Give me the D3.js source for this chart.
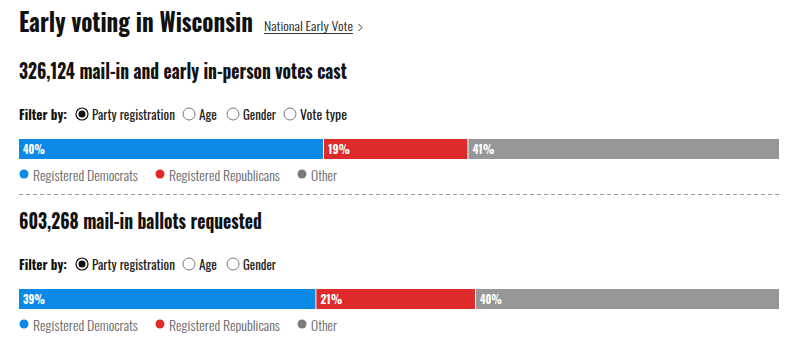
<!DOCTYPE html>
<html><head><meta charset="utf-8">
<script src="https://cdn.jsdelivr.net/npm/d3@7"></script>
<style>
html,body{margin:0;padding:0;background:#fff;}
svg{display:block;font-family:"Oswald","Roboto Condensed",sans-serif;}
</style></head>
<body>
<script>
const title = "Early voting in Wisconsin";
const linkText = "National Early Vote";
const categories = ["Registered Democrats", "Registered Republicans", "Other"];
const colors = ["#0b89e6", "#de2a2b", "#979797"];
const legendDotColors = ["#0b89e6", "#de2a2b", "#7b7b7b"];
const sectionCounts = ["326,124", "603,268"];
const sectionLabels = ["mail-in and early in-person votes cast", "mail-in ballots requested"];
const filterOptions = [
  ["Party registration", "Age", "Gender", "Vote type"],
  ["Party registration", "Age", "Gender"]
];
const castValues = [40, 19, 41];
const requestedValues = [39, 21, 40];
const seriesValues = [castValues, requestedValues];

const W = 791, H = 348;
const svg = d3.select("body").append("svg").attr("width", W).attr("height", H);
const x = d3.scaleLinear().domain([0, 100]).range([19, 779]);

// place a text at (tx,ty) and scale it horizontally to the target width
function fitText(parent, tx, ty, targetW, attrs, build) {
  const g = parent.append("g");
  const t = g.append("text").attr("x", 0).attr("y", 0);
  Object.entries(attrs).forEach(([k, v]) => t.attr(k, v));
  build(t);
  const w = t.node().getComputedTextLength();
  const sx = targetW ? targetW / w : 1;
  g.attr("transform", `translate(${tx},${ty}) scale(${sx},1)`);
  return {g, t, sx};
}

// Title
fitText(svg, 19, 32, 234, {"font-size": 25.5, "font-weight": 700, "fill": "#111"}, t => t.text(title));
fitText(svg, 264, 31, 89, {"font-size": 12.5, "font-weight": 300, "fill": "#222"}, t => t.text(linkText));
svg.append("line").attr("x1", 264).attr("x2", 353).attr("y1", 33.5).attr("y2", 33.5)
  .attr("stroke", "#333").attr("stroke-width", 1);
svg.append("path").attr("d", "M358.5,24 L362,27.5 L358.5,31").attr("fill", "none")
  .attr("stroke", "#333").attr("stroke-width", 1);

// Dashed separator
svg.append("line").attr("x1", 19).attr("x2", 779).attr("y1", 194.5).attr("y2", 194.5)
  .attr("stroke", "#9a9a9a").attr("stroke-dasharray", "4,3").attr("stroke-width", 1);

const subtitleW = [328, 243];
const radioX = [[82, 189, 233, 290], [82, 189, 233]];
const radioTextW = [[83, 18, 33, 47], [83, 18, 33]];
const legendX = [24, 160, 302];
const legendTextW = [105, 111, 26];

seriesValues.forEach((vals, si) => {
  const oy = si * 150;
  const g = svg.append("g").attr("transform", `translate(0,${oy})`);
  // Subtitle
  fitText(g, 19, 78.5, subtitleW[si], {"font-size": 20, "font-weight": 700, "fill": "#111"}, t => {
    t.append("tspan").text(sectionCounts[si]);
    t.append("tspan").text(" " + sectionLabels[si]);
  });
  // Filter
  fitText(g, 19, 120, 48, {"font-size": 13.5, "font-weight": 700, "fill": "#111"}, t => t.text("Filter by:"));
  filterOptions[si].forEach((opt, i) => {
    const cx = radioX[si][i];
    g.append("circle").attr("cx", cx).attr("cy", 114).attr("r", 6)
      .attr("fill", "#fff").attr("stroke", i === 0 ? "#111" : "#777").attr("stroke-width", i === 0 ? 1.2 : 1);
    if (i === 0) g.append("circle").attr("cx", cx).attr("cy", 114).attr("r", 3.5).attr("fill", "#111");
    fitText(g, cx + 10, 120, radioTextW[si][i], {"font-size": 13.5, "font-weight": 400, "fill": "#222"}, t => t.text(opt));
  });
  // Stacked bar
  let cum = 0;
  const segs = vals.map((v, i) => { const s = {v, i, x0: cum, x1: cum + v}; cum += v; return s; });
  g.selectAll("rect.seg").data(segs).join("rect").attr("class", "seg")
    .attr("x", d => x(d.x0) + (d.i > 0 ? 1 : 0))
    .attr("width", d => x(d.x1) - x(d.x0) - (d.i > 0 ? 1 : 0))
    .attr("y", 139).attr("height", 20)
    .attr("fill", d => colors[d.i]);
  segs.forEach(d => {
    fitText(g, x(d.x0) + (d.i > 0 ? 5 : 4), 154, 22, {"font-size": 12, "font-weight": 700, "fill": "#fff"}, t => t.text(d.v + "%"));
  });
  // Legend
  categories.forEach((c, i) => {
    g.append("circle").attr("cx", legendX[i]).attr("cy", 174).attr("r", 4.5).attr("fill", legendDotColors[i]);
    fitText(g, legendX[i] + 9, 180.5, legendTextW[i], {"font-size": 14, "font-weight": 300, "fill": "#666"}, t => t.text(c));
  });
});
</script>
</body></html>
